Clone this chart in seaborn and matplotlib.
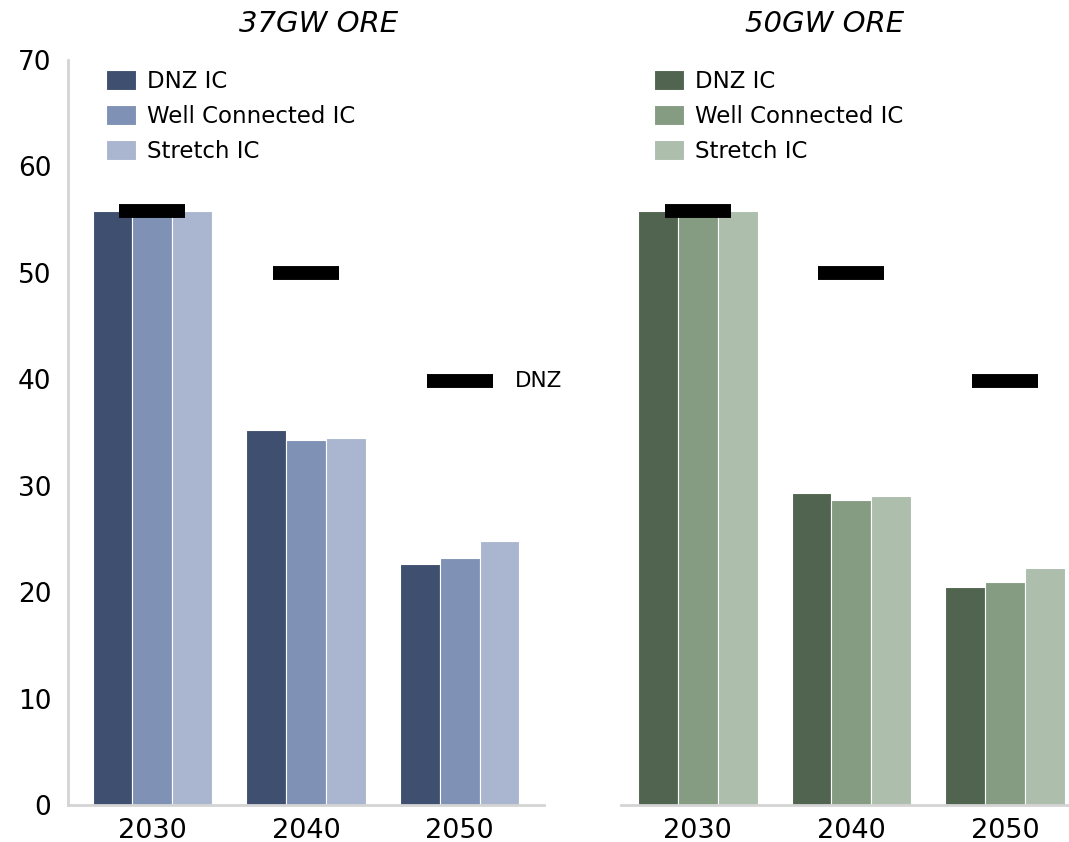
import pandas as pd
import matplotlib
matplotlib.use("Agg")
import matplotlib.pyplot as plt
import seaborn as sns

# Data
years = ["2030", "2040", "2050"]
scenarios = ["DNZ IC", "Well Connected IC", "Stretch IC"]

ore37_dnz_ic = [55.8, 35.2, 22.6]
ore37_well_connected = [55.8, 34.3, 23.2]
ore37_stretch = [55.8, 34.5, 24.8]

ore50_dnz_ic = [55.8, 29.3, 20.5]
ore50_well_connected = [55.8, 28.7, 20.95]
ore50_stretch = [55.8, 29.0, 22.3]

dnz_target = [55.8, 50.0, 39.8]

blues = ["#3e4f6f", "#7f91b4", "#aab6cf"]
greens = ["#50644f", "#859c83", "#adbead"]


def to_long(a, b, c):
    rows = []
    for name, vals in zip(scenarios, [a, b, c]):
        for yr, v in zip(years, vals):
            rows.append({"year": yr, "scenario": name, "value": v})
    return pd.DataFrame(rows)


df37 = to_long(ore37_dnz_ic, ore37_well_connected, ore37_stretch)
df50 = to_long(ore50_dnz_ic, ore50_well_connected, ore50_stretch)

sns.set_style("white")
plt.rcParams["font.family"] = ["DejaVu Sans"]
plt.rcParams["text.color"] = "black"
plt.rcParams["xtick.labelcolor"] = "black"
plt.rcParams["ytick.labelcolor"] = "black"

W, H = 1069, 842
fig = plt.figure(figsize=(W / 100, H / 100), dpi=100)
ax1 = fig.add_axes([68 / W, 37 / H, 476 / W, 745 / H])
ax2 = fig.add_axes([621 / W, 37 / H, 447 / W, 745 / H])

axis_grey = "#d4d4d4"

for ax, df, pal, xlim in [(ax1, df37, blues, (-0.55, 2.55)),
                          (ax2, df50, greens, (-0.5, 2.41))]:
    sns.barplot(data=df, x="year", y="value", hue="scenario",
                palette=pal, saturation=1, width=0.78, errorbar=None,
                edgecolor="white", linewidth=0.8, ax=ax)
    pos = list(range(len(years)))
    ax.hlines(dnz_target, [p - 0.215 for p in pos], [p + 0.215 for p in pos],
              color="black", linewidth=10, zorder=5)
    ax.set_xlim(*xlim)
    ax.set_ylim(0, 70)
    ax.set_xlabel("")
    ax.set_ylabel("")
    ax.set_yticks(range(0, 71, 10))
    ax.tick_params(axis="x", length=0, pad=9, labelsize=19.5)
    ax.tick_params(axis="y", length=6, width=1.5, color=axis_grey, pad=6, labelsize=19)
    for s in ["top", "right"]:
        ax.spines[s].set_visible(False)
    ax.spines["bottom"].set_color(axis_grey)
    ax.spines["bottom"].set_linewidth(2)
    ax.spines["left"].set_color(axis_grey)
    ax.spines["left"].set_linewidth(2)
    ax.legend_.remove()

ax2.spines["left"].set_visible(False)
ax2.tick_params(axis="y", left=False, labelleft=False)

# DNZ label next to the 2050 marker
ax1.text(2.36, dnz_target[2], "DNZ", fontsize=15.5, va="center", ha="left")

# Legends
for ax, x0 in [(ax1, 106), (ax2, 654)]:
    handles, labels = ax.get_legend_handles_labels()
    fig.legend(handles, labels, loc="upper left",
               bbox_to_anchor=(x0 / W, 1 - 70 / H), bbox_transform=fig.transFigure,
               frameon=False, fontsize=16.5, borderpad=0, borderaxespad=0,
               handlelength=1.31, handleheight=0.96, handletextpad=0.48,
               labelspacing=0.53)

fig.text(319 / W, 1 - 24 / H, "37GW ORE", fontsize=21, fontstyle="italic",
         ha="center", va="center")
fig.text(825 / W, 1 - 24 / H, "50GW ORE", fontsize=21, fontstyle="italic",
         ha="center", va="center")

fig.savefig("out.png", dpi=100)
